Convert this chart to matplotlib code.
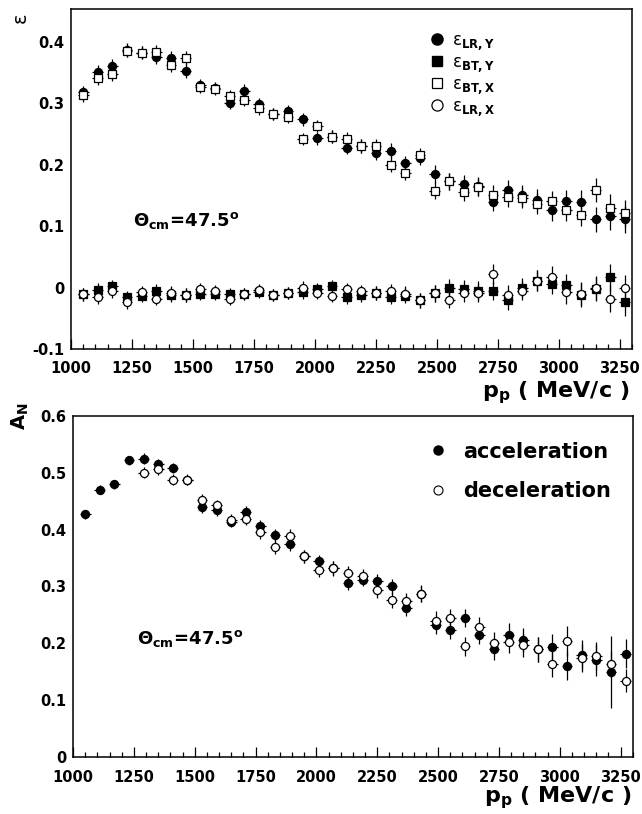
import numpy as np
import matplotlib
matplotlib.use('Agg')
import matplotlib.pyplot as plt
from matplotlib.lines import Line2D

plt.rcParams['font.family'] = 'DejaVu Sans'
plt.rcParams['font.weight'] = 'bold'
plt.rcParams['mathtext.fontset'] = 'dejavusans'

# beam momentum bins (MeV/c)
p_bins = [1050, 1110, 1170, 1230, 1290, 1350, 1410, 1470, 1530, 1590,
          1650, 1710, 1770, 1830, 1890, 1950, 2010, 2070, 2130, 2190,
          2250, 2310, 2370, 2430, 2490, 2550, 2610, 2670, 2730, 2790,
          2850, 2910, 2970, 3030, 3090, 3150, 3210, 3270]
p_half = 22  # horizontal bar

# top panel: efficiencies
eps_lr_y = [0.318, 0.352, 0.361, 0.387, 0.383, 0.375, 0.374, 0.353, 0.330, 0.325,
            0.301, 0.321, 0.299, 0.283, 0.287, 0.274, 0.243, 0.246, 0.228, 0.231,
            0.219, 0.223, 0.203, 0.211, 0.185, 0.173, 0.169, 0.165, 0.140, 0.159,
            0.151, 0.143, 0.126, 0.141, 0.140, 0.111, 0.116, 0.111]
eps_bt_x = [0.314, 0.341, 0.348, 0.386, 0.383, 0.384, 0.363, 0.374, 0.327, 0.323,
            0.312, 0.306, 0.292, 0.283, 0.278, 0.242, 0.263, 0.246, 0.242, 0.231,
            0.231, 0.200, 0.187, 0.216, 0.158, 0.173, 0.155, 0.164, 0.151, 0.147,
            0.146, 0.137, 0.141, 0.126, 0.119, 0.159, 0.130, 0.121]
eps_bt_y = [-0.011, -0.004, 0.002, -0.016, -0.013, -0.005, -0.012, -0.012, -0.010, -0.010,
            -0.010, -0.010, -0.007, -0.012, -0.009, -0.008, -0.003, 0.002, -0.016, -0.012,
            -0.009, -0.015, -0.013, -0.021, -0.009, 0.000, -0.002, -0.005, -0.005, -0.020,
            -0.001, 0.011, 0.006, 0.004, -0.012, -0.002, 0.017, -0.024]
eps_lr_x = [-0.011, -0.015, -0.006, -0.024, -0.008, -0.018, -0.009, -0.012, -0.002, -0.005,
            -0.018, -0.010, -0.004, -0.012, -0.009, 0.000, -0.009, -0.013, -0.003, -0.006,
            -0.009, -0.006, -0.010, -0.021, -0.009, -0.020, -0.009, -0.009, 0.022, -0.012,
            -0.005, 0.011, 0.018, -0.008, -0.010, -0.001, -0.018, -0.001]
eps_err = [0.011, 0.011, 0.011, 0.011, 0.011, 0.011, 0.011, 0.011, 0.010, 0.010,
           0.010, 0.010, 0.010, 0.010, 0.010, 0.010, 0.010, 0.011, 0.011, 0.011,
           0.011, 0.012, 0.012, 0.012, 0.014, 0.014, 0.014, 0.015, 0.016, 0.016,
           0.016, 0.017, 0.017, 0.018, 0.019, 0.020, 0.022, 0.022]

# bottom panel: analyzing power
an_acc = [0.427, 0.470, 0.480, 0.522, 0.525, 0.515, 0.508, 0.488, 0.440, 0.434,
          0.414, 0.431, 0.407, 0.391, 0.374, 0.353, 0.344, 0.332, 0.306, 0.312,
          0.309, 0.300, 0.262, 0.287, 0.232, 0.223, 0.245, 0.215, 0.190, 0.215,
          0.206, 0.190, 0.193, 0.161, 0.180, 0.171, 0.150, 0.182]
an_acc_err = [0.008, 0.008, 0.008, 0.008, 0.009, 0.009, 0.009, 0.009, 0.010, 0.010,
              0.010, 0.010, 0.010, 0.011, 0.011, 0.011, 0.011, 0.012, 0.012, 0.012,
              0.013, 0.013, 0.014, 0.014, 0.015, 0.016, 0.016, 0.017, 0.020, 0.020,
              0.021, 0.022, 0.023, 0.025, 0.025, 0.028, 0.063, 0.025]
p_dec = p_bins[4:]
an_dec = [0.500, 0.507, 0.488, 0.488, 0.453, 0.443, 0.417, 0.419, 0.395, 0.369,
          0.389, 0.353, 0.329, 0.332, 0.323, 0.318, 0.294, 0.277, 0.274, 0.287,
          0.240, 0.244, 0.195, 0.229, 0.201, 0.203, 0.197, 0.190, 0.163, 0.204,
          0.174, 0.178, 0.163, 0.134]
an_dec_err = [0.010, 0.010, 0.010, 0.010, 0.010, 0.010, 0.010, 0.011, 0.011, 0.012,
              0.012, 0.012, 0.012, 0.013, 0.013, 0.013, 0.014, 0.014, 0.015, 0.015,
              0.016, 0.016, 0.017, 0.018, 0.019, 0.020, 0.021, 0.022, 0.022, 0.026,
              0.024, 0.025, 0.024, 0.020]

xticks = [1000, 1250, 1500, 1750, 2000, 2250, 2500, 2750, 3000, 3250]

fig = plt.figure(figsize=(6.42, 8.14), dpi=100)
ax1 = fig.add_axes([0.1106, 0.5713, 0.874, 0.4177])
ax2 = fig.add_axes([0.1137, 0.070, 0.872, 0.419])


def style_axis(ax):
    for s in ax.spines.values():
        s.set_linewidth(1.1)
    ax.set_xlim(1000, 3300)
    ax.set_xticks(xticks)
    ax.set_xticklabels([str(t) for t in xticks])
    ax.set_xticks(np.arange(1000, 3301, 50), minor=True)
    ax.tick_params(axis='x', which='major', direction='in', length=7, width=0.9,
                   pad=9, labelsize=10.5, top=False)
    ax.tick_params(axis='x', which='minor', direction='in', length=3.5, width=0.9, top=False)
    ax.tick_params(axis='y', which='both', length=0, pad=5, labelsize=10.5)
    for lab in ax.get_xticklabels() + ax.get_yticklabels():
        lab.set_fontweight('bold')


def draw(ax, x, y, e, marker, filled, ms=5.8):
    ax.errorbar(x, y, yerr=e, xerr=p_half, fmt=marker, ms=ms,
                mfc='black' if filled else 'white', mec='black', mew=0.9,
                ecolor='black', elinewidth=0.9, capsize=0, zorder=3)


theta_txt = r'$\mathrm{\Theta}_{\mathbf{cm}}$=47.5$^{\mathbf{o}}$'

# ---- top panel
style_axis(ax1)
ax1.set_ylim(-0.1, 0.454)
yt1 = [-0.1, 0, 0.1, 0.2, 0.3, 0.4]
ax1.set_yticks(yt1)
ax1.set_yticklabels(['-0.1', '0', '0.1', '0.2', '0.3', '0.4'], fontweight='bold')

draw(ax1, p_bins, eps_lr_y, eps_err, 'o', True)
draw(ax1, p_bins, eps_bt_x, eps_err, 's', False)
draw(ax1, p_bins, eps_bt_y, eps_err, 's', True)
draw(ax1, p_bins, eps_lr_x, eps_err, 'o', False)

h1 = [Line2D([], [], ls='none', marker='o', ms=8, mfc='black', mec='black'),
      Line2D([], [], ls='none', marker='s', ms=7.5, mfc='black', mec='black'),
      Line2D([], [], ls='none', marker='s', ms=7.5, mfc='white', mec='black', mew=0.9),
      Line2D([], [], ls='none', marker='o', ms=8, mfc='white', mec='black', mew=0.9)]
l1 = ['ε$_{\\mathbf{LR,Y}}$', 'ε$_{\\mathbf{BT,Y}}$',
      'ε$_{\\mathbf{BT,X}}$', 'ε$_{\\mathbf{LR,X}}$']
ax1.legend(h1, l1, loc='upper left', bbox_to_anchor=(0.638, 0.935), frameon=False,
           prop={'size': 12, 'weight': 'normal'}, handlelength=1.0, handletextpad=0.4,
           labelspacing=0.05, borderpad=0, borderaxespad=0)

ax1.text(1255, 0.11, theta_txt, fontsize=13, fontweight='bold', va='center', ha='left')

fig.text(0.016, 0.985, 'ε', rotation=90, fontsize=14, fontweight='normal',
         va='top', ha='left')
fig.text(0.981, 0.512, r'$\mathbf{p_p}$ ( MeV/c )', fontsize=16, fontweight='bold',
         ha='right', va='baseline')

# ---- bottom panel
style_axis(ax2)
ax2.set_ylim(0, 0.6)
yt2 = [0, 0.1, 0.2, 0.3, 0.4, 0.5, 0.6]
ax2.set_yticks(yt2)
ax2.set_yticklabels(['0', '0.1', '0.2', '0.3', '0.4', '0.5', '0.6'], fontweight='bold')

draw(ax2, p_bins, an_acc, an_acc_err, 'o', True)
draw(ax2, p_dec, an_dec, an_dec_err, 'o', False)

h2 = [Line2D([], [], ls='none', marker='o', ms=6.5, mfc='black', mec='black'),
      Line2D([], [], ls='none', marker='o', ms=6.5, mfc='white', mec='black', mew=0.8)]
ax2.legend(h2, ['acceleration', 'deceleration'], loc='upper left',
           bbox_to_anchor=(0.634, 0.925), frameon=False, prop={'size': 15, 'weight': 'bold'},
           handlelength=1.0, handletextpad=0.7, labelspacing=0.95,
           borderpad=0, borderaxespad=0)

ax2.text(1262, 0.208, theta_txt, fontsize=13, fontweight='bold', va='center', ha='left')

fig.text(0.032, 0.489, r'$\mathbf{A_N}$', rotation=90, fontsize=14, va='center', ha='center')
fig.text(0.984, 0.0147, r'$\mathbf{p_p}$ ( MeV/c )', fontsize=16, fontweight='bold',
         ha='right', va='baseline')

fig.savefig('out.png', dpi=100)
